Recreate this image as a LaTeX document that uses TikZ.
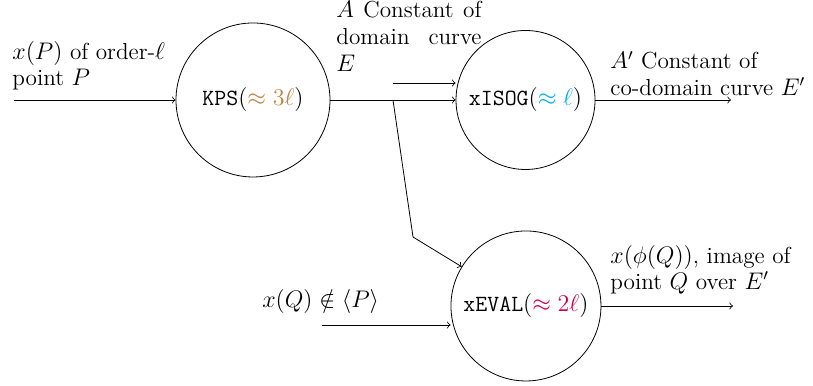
\documentclass[tikz,border=0pt]{standalone}
\usepackage{amsmath,amssymb}
\definecolor{kpscol}{RGB}{191,128,64}
\definecolor{isogcol}{RGB}{0,174,239}
\definecolor{evalcol}{RGB}{204,0,85}
\begin{document}
\begin{tikzpicture}[
  every node/.style={font=\fontsize{11.6pt}{13.3pt}\selectfont},
  proc/.style={draw, circle, inner sep=0pt},
  flow/.style={->},
  lbl/.style={align=left, inner sep=0pt, anchor=north west}]

\useasboundingbox (0,0) rectangle (14.287,-6.766);

\node[proc, minimum size=77pt]   (kps)  at (4.446,-1.757) {\texttt{KPS}$(\textcolor{kpscol}{\approx 3\ell})$};
\node[proc, minimum size=69.5pt] (isog) at (9.235,-1.757) {\texttt{xISOG}$(\textcolor{isogcol}{\approx \ell})$};
\node[proc, minimum size=75pt]   (eval) at (9.243,-5.377) {\texttt{xEVAL}$(\textcolor{evalcol}{\approx 2\ell})$};

\coordinate (pin)     at (0.246,-1.757);
\coordinate (ain)     at (6.906,-1.459);
\coordinate (br)      at (6.906,-1.757);
\coordinate (bend)    at (7.258,-4.165);
\coordinate (qin)     at (5.658,-5.711);
\coordinate (isogout) at (12.846,-1.757);
\coordinate (evalout) at (12.881,-5.377);

\node[lbl] (lp)   at (0.211,-0.72) {$x(P)$ of order-$\ell$\\point $P$};
\node[lbl, text width=2.55cm, align=justify] (la) at (5.905,-0.02) {$A$ Constant of domain curve $E$};
\node[lbl] (lap)  at (10.72,-0.895) {$A'$ Constant of\\co-domain curve $E'$};
\node[lbl] (lphi) at (10.72,-4.30)  {$x(\phi(Q))$, image of\\point $Q$ over $E'$};
\node[anchor=west, inner sep=0pt] (lq) at (4.604,-5.307) {$x(Q)\notin\langle P\rangle$};

\draw[flow] (pin) -- (kps);
\draw[flow] (kps) -- (isog);
\draw[flow] (ain) -- (ain -| isog.west);
\draw[flow] (br) -- (bend) -- (eval);
\draw[flow] (isog) -- (isogout);
\draw[flow] (qin) -- (qin -| eval.west);
\draw[flow] (eval) -- (evalout);
\end{tikzpicture}
\end{document}
